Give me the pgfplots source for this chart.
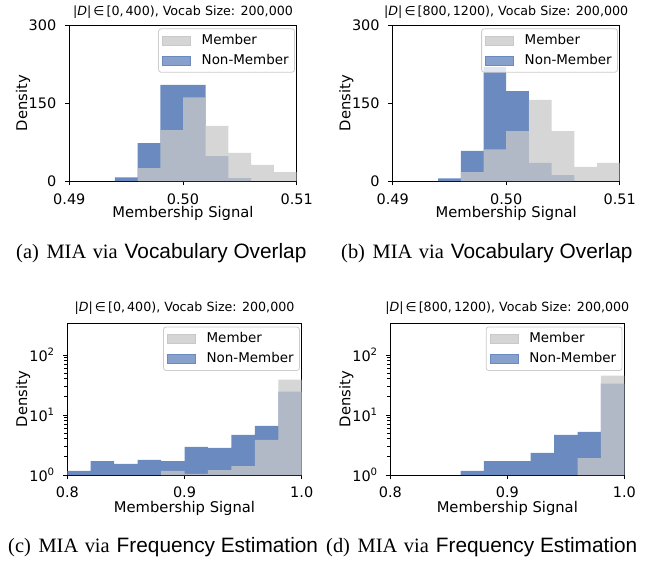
\documentclass[border=0pt]{standalone}
\usepackage{fontspec}
\setmainfont{Liberation Serif}
\setsansfont{Liberation Sans}
\newfontfamily\dejavu{DejaVu Sans}
\usepackage{pgfplots}
\pgfplotsset{compat=1.18}
\definecolor{nmblue}{RGB}{106,138,192}
\definecolor{memgray}{RGB}{201,201,201}
\definecolor{legframe}{RGB}{204,204,204}
\newcommand{\tickfont}{\dejavu\fontsize{14.5}{17}\selectfont}
\newcommand{\labfont}{\dejavu\fontsize{14.8}{17}\selectfont}
\newcommand{\titfont}{\dejavu\fontsize{12.7}{15}\selectfont}
\newcommand{\legfont}{\dejavu\fontsize{13.5}{16}\selectfont}
\newcommand{\capfont}{\fontsize{20.5}{24}\selectfont}
\newcommand{\capsf}[1]{{\sffamily\fontsize{20.9}{24}\selectfont #1}}
\newcommand{\subcap}[2]{(#1)\hspace{7.7bp}MIA\hspace{6.5bp}via\hspace{7bp}\capsf{#2}}
\newcommand{\sups}[1]{10\raisebox{0.45em}{\fontsize{10.2}{12}\selectfont #1}}
\newcommand{\ttl}[1]{|\textit{D}|\,∈\,[#1), Vocab Size: 200,000}
\pgfplotsset{
  histax/.style={
    scale only axis,
    axis line style={black, line width=0.9bp},
    every tick/.style={black, line width=0.9bp},
    tick align=outside,
    major tick length=4.3bp,
    xtick pos=left, ytick pos=left,
    minor tick num=0,
    ticklabel style={font=\tickfont, text=black},
    yticklabel style={anchor=east, inner sep=0pt, xshift=-8.6bp},
    xlabel={Membership Signal}, ylabel={Density},
    label style={font=\labfont},
    xlabel style={anchor=base},
    ylabel style={anchor=base, rotate=0},
    title style={font=\titfont, anchor=center},
    clip=true,
    legend cell align=left,
    legend style={at={(axis description cs:0.992,0.978)}, anchor=north east,
      draw=legframe, line width=0.8bp, rounded corners=2.5bp, fill=white,
      fill opacity=0.8, text opacity=1, font=\legfont,
      inner xsep=3.8bp, inner ysep=1.7bp, column sep=8.5bp,
      nodes={inner xsep=2bp, inner ysep=4bp, text height=10bp, text depth=2bp}},
  },
  memleg/.style={legend image code/.code={\fill[memgray, fill opacity=0.76, sharp corners] (0bp,-4.5bp) rectangle (28bp,4.5bp);}},
  nmleg/.style={legend image code/.code={\fill[nmblue, sharp corners] (0bp,-4.5bp) rectangle (28bp,4.5bp);}},
  nmbar/.style={ybar interval, fill=nmblue, draw=none, forget plot},
  membar/.style={ybar interval, fill=memgray, fill opacity=0.76, draw=none, forget plot},
}
\begin{document}
\begin{tikzpicture}[x=1bp,y=1bp]
\path[use as bounding box] (0,0) rectangle (662,-562);

% (a)
\begin{axis}[histax, at={(69.3bp,-181bp)}, anchor=south west, width=227.4bp, height=156bp,
  xmin=0.49, xmax=0.51, ymin=0, ymax=300,
  xtick={0.49,0.5,0.51}, xticklabels={0.49,0.50,0.51}, ytick={0,150,300}, yticklabels={0,150,300},
  xticklabel style={anchor=base, inner sep=0pt, yshift=-19.5bp},
  title={\ttl{0,\,400}}, title style={at={(axis description cs:0.5,1.045)}},
  xlabel style={at={(axis description cs:0.5,-0.237)}},
  ylabel style={at={(axis description cs:-0.186,0.5)}}]
\addlegendimage{memleg}\addlegendentry{Member}
\addlegendimage{nmleg}\addlegendentry{Non-Member}
\addplot[nmbar] coordinates {(0.494,7) (0.496,73) (0.498,185) (0.500,185) (0.502,48) (0.504,5.5) (0.506,0)};
\addplot[membar] coordinates {(0.496,25) (0.498,98) (0.500,161) (0.502,106) (0.504,54) (0.506,31) (0.508,17) (0.510,0)};
\end{axis}

% (b)
\begin{axis}[histax, at={(392.7bp,-181bp)}, anchor=south west, width=227bp, height=156bp,
  xmin=0.49, xmax=0.51, ymin=0, ymax=300,
  xtick={0.49,0.5,0.51}, xticklabels={0.49,0.50,0.51}, ytick={0,150,300}, yticklabels={0,150,300},
  xticklabel style={anchor=base, inner sep=0pt, yshift=-19.5bp},
  title={\ttl{800,\,1200}}, title style={at={(axis description cs:0.5,1.045)}},
  xlabel style={at={(axis description cs:0.5,-0.237)}},
  ylabel style={at={(axis description cs:-0.187,0.5)}}]
\addlegendimage{memleg}\addlegendentry{Member}
\addlegendimage{nmleg}\addlegendentry{Non-Member}
\addplot[nmbar] coordinates {(0.494,5) (0.496,58) (0.498,219) (0.500,173) (0.502,35) (0.504,11.5) (0.506,0)};
\addplot[membar] coordinates {(0.496,17) (0.498,61) (0.500,96) (0.502,156) (0.504,96) (0.506,27) (0.508,35) (0.510,0)};
\end{axis}

% (c)
\begin{axis}[histax, at={(67.3bp,-475bp)}, anchor=south west, width=234.4bp, height=151.7bp,
  ymode=log, xmin=0.8, xmax=1.0, ymin=1, ymax=337,
  xtick={0.8,0.9,1.0}, xticklabels={0.8,0.9,1.0}, ytick={1,10,100}, yticklabels={\sups{0},\sups{1},\sups{2}},
  xticklabel style={anchor=base, inner sep=0pt, yshift=-18.5bp},
  title={\ttl{0,\,400}}, title style={at={(axis description cs:0.5,1.061)}},
  xlabel style={at={(axis description cs:0.5,-0.246)}},
  ylabel style={at={(axis description cs:-0.171,0.5)}}]
\addlegendimage{memleg}\addlegendentry{Member}
\addlegendimage{nmleg}\addlegendentry{Non-Member}
\addplot[nmbar] coordinates {(0.80,1.17) (0.82,1.71) (0.84,1.53) (0.86,1.78) (0.88,1.71) (0.90,2.94) (0.92,2.83) (0.94,4.66) (0.96,6.59) (0.98,24.4) (1.00,1)};
\addplot[membar] coordinates {(0.88,1.17) (0.90,1.04) (0.92,1.21) (0.94,1.41) (0.96,3.85) (0.98,38.7) (1.00,1)};
\end{axis}

% (d)
\begin{axis}[histax, at={(390.3bp,-475bp)}, anchor=south west, width=234bp, height=151.7bp,
  ymode=log, xmin=0.8, xmax=1.0, ymin=1, ymax=337,
  xtick={0.8,0.9,1.0}, xticklabels={0.8,0.9,1.0}, ytick={1,10,100}, yticklabels={\sups{0},\sups{1},\sups{2}},
  xticklabel style={anchor=base, inner sep=0pt, yshift=-18.5bp},
  title={\ttl{800,\,1200}}, title style={at={(axis description cs:0.5,1.059)}},
  xlabel style={at={(axis description cs:0.5,-0.246)}},
  ylabel style={at={(axis description cs:-0.171,0.5)}}]
\addlegendimage{memleg}\addlegendentry{Member}
\addlegendimage{nmleg}\addlegendentry{Non-Member}
\addplot[nmbar] coordinates {(0.86,1.17) (0.88,1.71) (0.90,1.71) (0.92,2.33) (0.94,4.66) (0.96,5.23) (0.98,33.2) (1.00,1)};
\addplot[membar] coordinates {(0.96,1.92) (0.98,45.1) (1.00,1)};
\end{axis}

\node[font=\capfont, anchor=base west, inner sep=0pt] at (16,-258.7) {\subcap{a}{Vocabulary Overlap}};
\node[font=\capfont, anchor=base west, inner sep=0pt] at (341,-258.7) {\subcap{b}{Vocabulary Overlap}};
\node[font=\capfont, anchor=base west, inner sep=0pt] at (8,-552) {\subcap{c}{Frequency Estimation}};
\node[font=\capfont, anchor=base west, inner sep=0pt] at (326,-552) {\subcap{d}{Frequency Estimation}};
\end{tikzpicture}
\end{document}
